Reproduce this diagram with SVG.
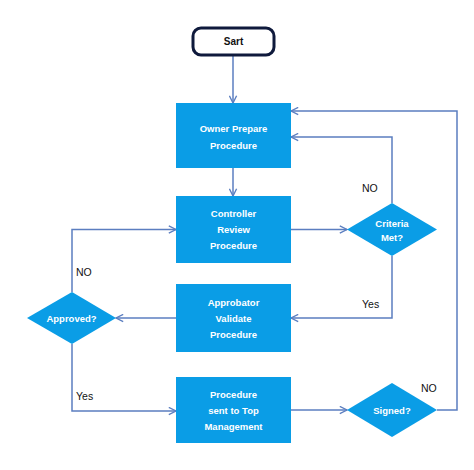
<svg xmlns="http://www.w3.org/2000/svg" width="474" height="470" viewBox="0 0 474 470">
<defs>
<style>
.box{fill:#0a9de6;}
.t{font-family:"Liberation Sans",Arial,sans-serif;font-weight:bold;font-size:9.5px;fill:#ffffff;text-anchor:middle;dominant-baseline:central;}
.l{font-family:"Liberation Sans",Arial,sans-serif;font-size:10.5px;fill:#111111;dominant-baseline:central;}
.c{fill:none;stroke:#5b7ec0;stroke-width:1.5;}
</style>
<marker id="a" viewBox="0 0 10 10" refX="9" refY="5" markerWidth="9" markerHeight="9" markerUnits="userSpaceOnUse" orient="auto">
<path d="M1,1 L9,5 L1,9" fill="none" stroke="#5b7ec0" stroke-width="1.5"/>
</marker>
</defs>
<rect width="474" height="470" fill="#ffffff"/>
<g id="connectors">
<path class="c" d="M233,55 V103" marker-end="url(#a)"/>
<path class="c" d="M233,168 V196" marker-end="url(#a)"/>
<path class="c" d="M291,229.5 H347" marker-end="url(#a)"/>
<path class="c" d="M392,203 V137 H291" marker-end="url(#a)"/>
<path class="c" d="M392,256 V318 H291" marker-end="url(#a)"/>
<path class="c" d="M176,318 H116" marker-end="url(#a)"/>
<path class="c" d="M72,292 V229.5 H176" marker-end="url(#a)"/>
<path class="c" d="M72,344 V411 H176" marker-end="url(#a)"/>
<path class="c" d="M291,410 H347" marker-end="url(#a)"/>
<path class="c" d="M437,410 H457 V111 H291" marker-end="url(#a)"/>
<text class="l" x="362" y="188">NO</text>
<text class="l" x="362" y="304">Yes</text>
<text class="l" x="76" y="272">NO</text>
<text class="l" x="76" y="396">Yes</text>
<text class="l" x="421" y="388">NO</text>
</g>
<g id="start">
<rect x="193" y="28" width="81" height="27" rx="8" fill="#ffffff" stroke="#0f1a3c" stroke-width="3"/>
<text x="233.5" y="41.5" style="font-family:'Liberation Sans',Arial,sans-serif;font-weight:bold;font-size:10px;fill:#111;text-anchor:middle;dominant-baseline:central;">Sart</text>
</g>
<g id="owner">
<rect class="box" x="176" y="103" width="115" height="65"/>
<text class="t" x="233.5" y="128">Owner Prepare</text>
<text class="t" x="233.5" y="145">Procedure</text>
</g>
<g id="controller">
<rect class="box" x="176" y="196" width="115" height="67"/>
<text class="t" x="233.5" y="213">Controller</text>
<text class="t" x="233.5" y="229">Review</text>
<text class="t" x="233.5" y="245">Procedure</text>
</g>
<g id="criteria">
<polygon class="box" points="347,229.5 392,203 437,229.5 392,256"/>
<text class="t" x="392" y="223">Criteria</text>
<text class="t" x="392" y="237">Met?</text>
</g>
<g id="approbator">
<rect class="box" x="176" y="284" width="115" height="68"/>
<text class="t" x="233.5" y="302">Approbator</text>
<text class="t" x="233.5" y="318">Validate</text>
<text class="t" x="233.5" y="334">Procedure</text>
</g>
<g id="approved">
<polygon class="box" points="27,318 72,292 116,318 72,344"/>
<text class="t" x="71.5" y="318">Approved?</text>
</g>
<g id="procedure">
<rect class="box" x="176" y="377" width="115" height="66"/>
<text class="t" x="233.5" y="394">Procedure</text>
<text class="t" x="233.5" y="410">sent to Top</text>
<text class="t" x="233.5" y="426">Management</text>
</g>
<g id="signed">
<polygon class="box" points="347,410 392,383 437,410 392,437"/>
<text class="t" x="392" y="410">Signed?</text>
</g>
</svg>
